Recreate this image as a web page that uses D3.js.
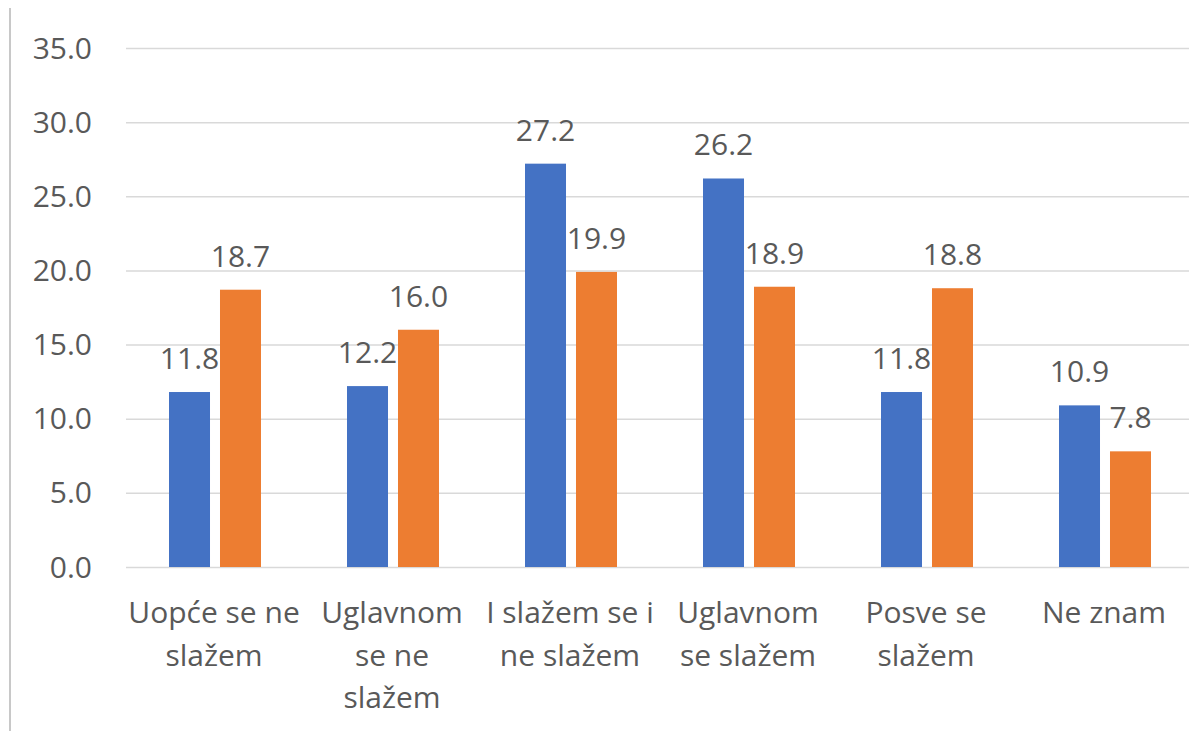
<!DOCTYPE html>
<html>
<head>
<meta charset="utf-8">
<script src="https://cdn.jsdelivr.net/npm/d3@7"></script>
<style>
  html, body { margin: 0; padding: 0; background: #fff; }
  svg { display: block; font-family: "Open Sans", sans-serif; }
  .grid line { stroke: #d9d9d9; stroke-width: 1.5; }
  .grid path { display: none; }
  .y-axis text, .val-label, .cat-label { fill: #595959; font-size: 30px; }
</style>
</head>
<body>
<div id="chart"></div>
<script>
// categories, each split into the lines used in the reference
const categories = [
    ['Uopće se ne', 'slažem'],
    ['Uglavnom', 'se ne', 'slažem'],
    ['I slažem se i', 'ne slažem'],
    ['Uglavnom', 'se slažem'],
    ['Posve se', 'slažem'],
    ['Ne znam']
];
const seriesBlue = [11.8, 12.2, 27.2, 26.2, 11.8, 10.9];
const seriesOrange = [18.7, 16.0, 19.9, 18.9, 18.8, 7.8];
const yTicks = [0, 5, 10, 15, 20, 25, 30, 35];

const colors = ['#4472C4', '#ED7D31'];

function renderChart() {
    const width = 1189;
    const height = 731;

    const svg = d3.select('#chart').append('svg')
        .attr('width', width)
        .attr('height', height);

    // thin frame line on the left edge
    svg.append('line')
        .attr('x1', 10).attr('x2', 10)
        .attr('y1', 8).attr('y2', height)
        .attr('stroke', '#c8c8c8')
        .attr('stroke-width', 2);

    const x0 = d3.scaleBand()
        .domain(d3.range(categories.length))
        .range([126, 1194]);

    const x1 = d3.scaleBand()
        .domain([0, 1])
        .range([-46, 46])
        .paddingInner(0.196);

    const y = d3.scaleLinear()
        .domain([0, 35])
        .range([567, 48]);

    // gridlines
    svg.append('g')
        .attr('class', 'grid')
        .attr('transform', 'translate(126,0)')
        .call(d3.axisLeft(y).tickValues(yTicks).tickSize(-(1194 - 126)).tickFormat(''));

    // y tick labels
    svg.append('g')
        .attr('class', 'y-axis')
        .selectAll('text')
        .data(yTicks)
        .enter().append('text')
        .attr('x', 92)
        .attr('y', d => y(d))
        .attr('dy', '0.35em')
        .attr('text-anchor', 'end')
        .text(d => d3.format('.1f')(d));

    const series = [seriesBlue, seriesOrange];

    series.forEach((values, si) => {
        const g = svg.append('g');

        g.selectAll('rect')
            .data(values)
            .enter().append('rect')
            .attr('x', (d, i) => x0(i) + x0.bandwidth() / 2 + x1(si))
            .attr('y', d => y(d))
            .attr('width', x1.bandwidth())
            .attr('height', d => y(0) - y(d))
            .attr('fill', colors[si]);

        g.selectAll('text')
            .data(values)
            .enter().append('text')
            .attr('class', 'val-label')
            .attr('x', (d, i) => x0(i) + x0.bandwidth() / 2 + x1(si) + x1.bandwidth() / 2)
            .attr('y', d => y(d) - 23)
            .attr('text-anchor', 'middle')
            .text(d => d3.format('.1f')(d));
    });

    // category labels
    const cat = svg.append('g')
        .selectAll('text')
        .data(categories)
        .enter().append('text')
        .attr('class', 'cat-label')
        .attr('text-anchor', 'middle')
        .attr('x', (d, i) => x0(i) + x0.bandwidth() / 2 - 1)
        .attr('y', 623);

    cat.selectAll('tspan')
        .data(d => d)
        .enter().append('tspan')
        .attr('x', function () { return d3.select(this.parentNode).attr('x'); })
        .attr('dy', (d, i) => i === 0 ? 0 : 42.5)
        .text(d => d);
}

document.addEventListener('DOMContentLoaded', renderChart);
</script>
</body>
</html>
